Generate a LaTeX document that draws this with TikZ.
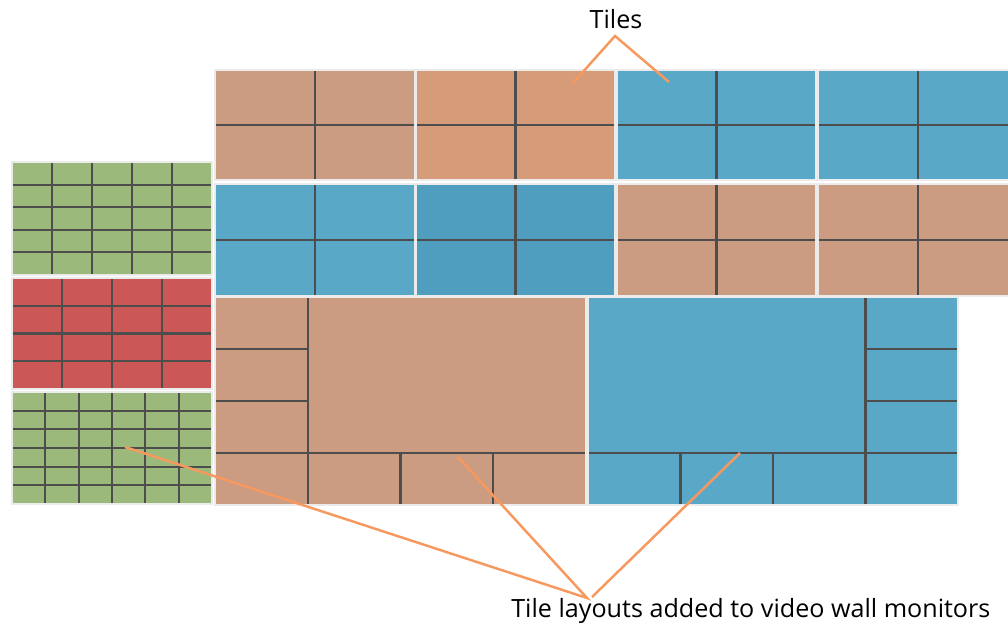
\documentclass[tikz,border=0pt]{standalone}
\usepackage{fontspec}
\setmainfont{Open Sans}
\usepackage{xcolor}
\usetikzlibrary{positioning}

\definecolor{tiletan}{HTML}{CB9C81}
\definecolor{tilepeach}{HTML}{D69B78}
\definecolor{tileblue}{HTML}{5AA8C7}
\definecolor{tiledeepblue}{HTML}{4F9EBF}
\definecolor{tilegreen}{HTML}{9BB97B}
\definecolor{tilered}{HTML}{CC5757}
\definecolor{gridgrey}{HTML}{4D4D4D}
\definecolor{calloutorange}{HTML}{F7985F}

% monitor with a regular tile grid: x, y, width, height, columns, rows, colour
\newcommand{\wallmonitor}[7]{%
  \fill[#7] (#1,#2) rectangle ++(#3,#4);
  \foreach \i in {2,...,#5}
    \draw[gridline] ({#1+(\i-1)*#3/#5},#2) -- ++(0,#4);
  \foreach \j in {2,...,#6}
    \draw[gridline] (#1,{#2+(\j-1)*#4/#6}) -- ++(#3,0);
  \draw[bezel] (#1,#2) rectangle ++(#3,#4);
}

\begin{document}
\begin{tikzpicture}[
    x=0.02cm, y=-0.02cm,
    gridline/.style={draw=gridgrey, line width=1.25pt},
    bezel/.style={draw=black!8, line width=0.6pt},
    callout/.style={draw=calloutorange, line width=1.4pt},
    caption/.style={font=\fontsize{14.3}{17}\selectfont, text=black, inner sep=0pt},
]
\clip (0,0) rectangle (1008,625);

% Top row of the wall
\wallmonitor{215}{70}{200}{110}{2}{2}{tiletan}
\wallmonitor{416}{70}{199}{110}{2}{2}{tilepeach}
\wallmonitor{617}{70}{199}{110}{2}{2}{tileblue}
\wallmonitor{818}{70}{200}{110}{2}{2}{tileblue}

% Second row of the wall
\wallmonitor{215}{184}{200}{112}{2}{2}{tileblue}
\wallmonitor{416}{184}{199}{112}{2}{2}{tiledeepblue}
\wallmonitor{617}{184}{199}{112}{2}{2}{tiletan}
\wallmonitor{818}{184}{200}{112}{2}{2}{tiletan}

% Tile layouts on the left
\wallmonitor{12}{162}{200}{113}{5}{5}{tilegreen}
\wallmonitor{12}{278}{200}{111}{4}{4}{tilered}
\wallmonitor{12}{392}{200}{112}{6}{6}{tilegreen}

% Large layout, big tile top right
\fill[tiletan] (215,297) rectangle (586,505);
\draw[gridline] (307.75,297) -- (307.75,505);
\foreach \y in {349,401}
  \draw[gridline] (215,\y) -- (307.75,\y);
\draw[gridline] (215,453) -- (586,453);
\foreach \x in {400.5,493.25}
  \draw[gridline] (\x,453) -- (\x,505);
\draw[bezel] (215,297) rectangle (586,505);

% Large layout, big tile top left
\fill[tileblue] (588,297) rectangle (958,505);
\draw[gridline] (865.5,297) -- (865.5,505);
\foreach \y in {349,401}
  \draw[gridline] (865.5,\y) -- (958,\y);
\draw[gridline] (588,453) -- (958,453);
\foreach \x in {680.5,773}
  \draw[gridline] (\x,453) -- (\x,505);
\draw[bezel] (588,297) rectangle (958,505);

% Labels
\node[caption, anchor=base] (tiles) at (616,29) {Tiles};
\node[caption, anchor=base west] (layouts) at (511,617)
     {Tile layouts added to video wall monitors};

% Callout points
\coordinate (tilesfoot) at (615,36);
\coordinate (peachtile) at (573,83);
\coordinate (bluetile) at (669,82);
\coordinate (meetleft) at (587,598);
\coordinate (meetright) at (592,597);
\coordinate (greenlayout) at (125,447);
\coordinate (tanlayout) at (458,457);
\coordinate (bluelayout) at (740,453);

\draw[callout] (peachtile) -- (tilesfoot) -- (bluetile);
\draw[callout] (greenlayout) -- (meetleft) -- (tanlayout);
\draw[callout] (bluelayout) -- (meetright);

\end{tikzpicture}
\end{document}
